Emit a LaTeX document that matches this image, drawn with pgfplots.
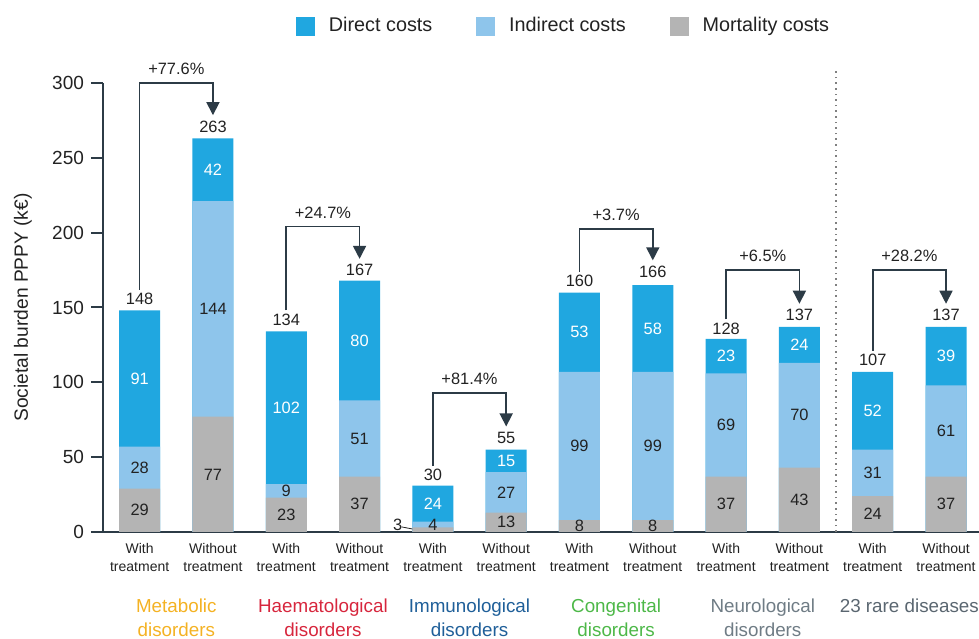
\documentclass[border=0pt]{standalone}
\usepackage{fontspec}
\setmainfont{Liberation Sans}
\usepackage{pgfplots}
\usepackage{pgfplotstable}
\pgfplotsset{compat=1.18}
\usetikzlibrary{arrows.meta}
\definecolor{dircol}{HTML}{20A7E0}
\definecolor{indcol}{HTML}{8EC5EB}
\definecolor{morcol}{HTML}{B4B4B4}
\definecolor{txt}{HTML}{222222}
\definecolor{axcol}{HTML}{2C3B46}
\definecolor{cmeta}{HTML}{F4B223}
\definecolor{chaem}{HTML}{D7263D}
\definecolor{cimmu}{HTML}{1F5F99}
\definecolor{ccong}{HTML}{4DB848}
\definecolor{cneur}{HTML}{6F7C85}
\definecolor{crare}{HTML}{5A6670}
\pgfplotstableread{
x m i d tot
0 29 28 91 148
1 77 144 42 263
2 23 9 102 134
3 37 51 80 167
4 3 4 24 30
5 13 27 15 55
6 8 99 53 160
7 8 99 58 166
8 37 69 23 128
9 43 70 24 137
10 24 31 52 107
11 37 61 39 137
}\data
\newcommand{\valfont}{\fontsize{8.2}{10}\selectfont}
\newcommand{\grpfont}{\fontsize{9.4}{12}\selectfont}
\begin{document}
\begin{tikzpicture}
\begin{axis}[
  name=ax, at={(0,0)}, anchor=south west,
  scale only axis, width=438pt, height=224.5pt,
  xmin=-0.5, xmax=11.45, ymin=0, ymax=300,
  clip=false,
  axis x line*=bottom, axis y line*=left,
  axis line style={draw=axcol, line width=1pt},
  ytick={0,50,...,300},
  xtick={0,...,11},
  xticklabels={With\\treatment,Without\\treatment,With\\treatment,Without\\treatment,With\\treatment,Without\\treatment,With\\treatment,Without\\treatment,With\\treatment,Without\\treatment,With\\treatment,Without\\treatment},
  xticklabel style={align=center, font=\fontsize{7}{9}\selectfont, text=txt, yshift=4pt},
  yticklabel style={font=\fontsize{9.5}{11}\selectfont, text=txt},
  /pgf/number format/assume math mode=true,
  tick align=outside,
  major y tick style={draw=axcol, line width=1pt},
  major tick length=6pt,
  major x tick style={draw=none},
  legend columns=3,
  legend style={at={(rel axis cs:0.527,1.127)}, anchor=center, draw=none, fill=none,
    font=\fontsize{9.9}{12}\selectfont, text=txt,
    /tikz/every even column/.append style={column sep=20pt},
    /tikz/every odd column/.append style={column sep=5pt}},
]
% bars (cumulative overlays)
\addplot[ybar, bar width=20.5pt, bar shift=0pt, fill=dircol, draw=none, forget plot]
  table[x=x, y expr=\thisrow{m}+\thisrow{i}+\thisrow{d}] {\data};
\addplot[ybar, bar width=20.5pt, bar shift=0pt, fill=indcol, draw=none, forget plot]
  table[x=x, y expr=\thisrow{m}+\thisrow{i}] {\data};
\addplot[ybar, bar width=20.5pt, bar shift=0pt, fill=morcol, draw=none, forget plot]
  table[x=x, y=m] {\data};
% segment labels
\addplot[only marks, mark=*, mark size=0pt, mark options={draw=none,fill=none}, forget plot,
  nodes near coords, point meta=explicit symbolic,
  nodes near coords style={anchor=center, text=white, font=\valfont}]
  table[x=x, y expr=\thisrow{m}+\thisrow{i}+\thisrow{d}/2, meta=d] {\data};
\addplot[only marks, mark=*, mark size=0pt, mark options={draw=none,fill=none}, forget plot,
  nodes near coords, point meta=explicit symbolic,
  nodes near coords style={anchor=center, text=txt, font=\valfont}]
  table[x=x, y expr=\thisrow{m}+\thisrow{i}/2, meta=i] {\data};
\addplot[only marks, mark=*, mark size=0pt, mark options={draw=none,fill=none}, forget plot,
  skip coords between index={4}{5},
  nodes near coords, point meta=explicit symbolic,
  nodes near coords style={anchor=center, text=txt, font=\valfont}]
  table[x=x, y expr=\thisrow{m}/2, meta=m] {\data};
% totals
\addplot[only marks, mark=*, mark size=0pt, mark options={draw=none,fill=none}, forget plot,
  nodes near coords, point meta=explicit symbolic,
  nodes near coords style={anchor=south, text=txt, font=\valfont, yshift=-0.5pt}]
  table[x=x, y=tot, meta=tot] {\data};
% small mortality label with leader
\node[font=\valfont, text=txt] at (axis cs:3.52,4.7) {3};
\draw[txt, line width=0.4pt] (axis cs:3.574,3.4) -- (axis cs:3.72,2);
% dotted separator
\addplot[gray, dotted, line width=0.8pt, forget plot] coordinates {(9.5,0) (9.5,308.6)};
% brackets
\pgfplotsset{brk/.style={axcol, line width=0.8pt, -{Triangle[width=6.5pt,length=6.5pt]}, forget plot}}
\addplot[brk] coordinates {(0,162) (0,300) (1,300) (1,278.5)};
\addplot[brk] coordinates {(2,148) (2,204) (3,204) (3,182.5)};
\addplot[brk] coordinates {(4,44) (4,93) (5,93) (5,70.5)};
\addplot[brk] coordinates {(6,174) (6,202.4) (7,202.4) (7,181.5)};
\addplot[brk] coordinates {(8,142) (8,175) (9,175) (9,152.5)};
\addplot[brk] coordinates {(10,121) (10,175) (11,175) (11,152.5)};
\node[font=\valfont, text=txt] at (axis cs:0.5,309.5) {+77.6\%};
\node[font=\valfont, text=txt] at (axis cs:2.5,213.5) {+24.7\%};
\node[font=\valfont, text=txt] at (axis cs:4.5,102.5) {+81.4\%};
\node[font=\valfont, text=txt] at (axis cs:6.5,212) {+3.7\%};
\node[font=\valfont, text=txt] at (axis cs:8.5,184.5) {+6.5\%};
\node[font=\valfont, text=txt] at (axis cs:10.5,184.5) {+28.2\%};
% group labels
\node[font=\grpfont, text=cmeta, align=center, anchor=north, inner sep=0pt] at ([yshift=-33pt]axis cs:0.5,0) {Metabolic\\disorders};
\node[font=\grpfont, text=chaem, align=center, anchor=north, inner sep=0pt] at ([yshift=-33pt]axis cs:2.5,0) {Haematological\\disorders};
\node[font=\grpfont, text=cimmu, align=center, anchor=north, inner sep=0pt] at ([yshift=-33pt]axis cs:4.5,0) {Immunological\\disorders};
\node[font=\grpfont, text=ccong, align=center, anchor=north, inner sep=0pt] at ([yshift=-33pt]axis cs:6.5,0) {Congenital\\disorders};
\node[font=\grpfont, text=cneur, align=center, anchor=north, inner sep=0pt] at ([yshift=-33pt]axis cs:8.5,0) {Neurological\\disorders};
\node[font=\grpfont, text=crare, align=center, anchor=north, inner sep=0pt] at ([yshift=-33pt]axis cs:10.5,0) {23 rare diseases};
% y label
\node[font=\fontsize{9.6}{11}\selectfont, text=txt, rotate=90] at ([xshift=-40pt]rel axis cs:0,0.5) {Societal burden PPPY (k€)};
% legend
\addlegendimage{legend image code/.code={\fill[dircol] (0pt,-4.5pt) rectangle (9pt,4.5pt);}}
\addlegendentry{Direct costs}
\addlegendimage{legend image code/.code={\fill[indcol] (0pt,-4.5pt) rectangle (9pt,4.5pt);}}
\addlegendentry{Indirect costs}
\addlegendimage{legend image code/.code={\fill[morcol] (0pt,-4.5pt) rectangle (9pt,4.5pt);}}
\addlegendentry{Mortality costs}
\end{axis}
\pgfresetboundingbox
\path[use as bounding box] ([xshift=-51.5pt,yshift=-53.5pt]ax.south west) rectangle ([yshift=41.5pt]ax.north east);
\end{tikzpicture}
\end{document}
